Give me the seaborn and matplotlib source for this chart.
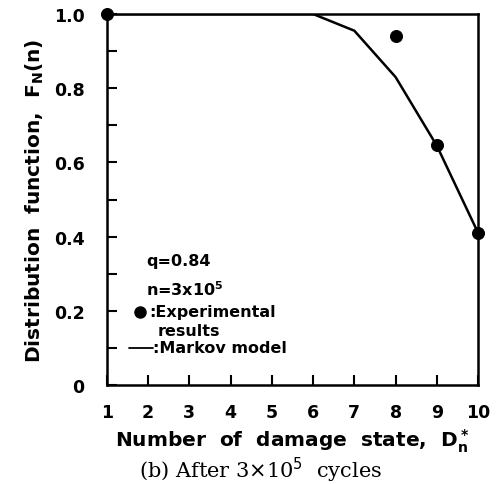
import matplotlib
matplotlib.use("Agg")
import matplotlib.pyplot as plt
import seaborn as sns
import pandas as pd
from matplotlib.ticker import MultipleLocator

sns.set_style("ticks")
plt.rcParams['font.family'] = ['DejaVu Sans']
plt.rcParams['text.color'] = 'black'
plt.rcParams['axes.labelcolor'] = 'black'
plt.rcParams['xtick.color'] = 'black'
plt.rcParams['ytick.color'] = 'black'

# Data
model_states = [1, 2, 3, 4, 5, 6, 7, 8, 9, 10]
model_values = [1.0, 1.0, 1.0, 1.0, 1.0, 1.0, 0.955, 0.83, 0.645, 0.41]
exp_states = [1, 8, 9, 10]
exp_values = [1.0, 0.94, 0.647, 0.41]
y_ticks = [0, 0.2, 0.4, 0.6, 0.8, 1.0]
y_ticklabels = ["0", "0.2", "0.4", "0.6", "0.8", "1.0"]
x_ticks = list(range(1, 11))

df_model = pd.DataFrame({"state": model_states, "F": model_values})
df_exp = pd.DataFrame({"state": exp_states, "F": exp_values})

fig = plt.figure(figsize=(4.97, 4.85), dpi=100)
ax = fig.add_axes([0.215, 0.204, 0.747, 0.765])

sns.lineplot(data=df_model, x="state", y="F", ax=ax, color="black", lw=1.8)
sns.scatterplot(data=df_exp, x="state", y="F", ax=ax, color="black", s=75,
                edgecolor="black", clip_on=False, zorder=5)

ax.set_xlim(1, 10)
ax.set_ylim(0, 1.0)
ax.set_xticks(x_ticks)
ax.set_yticks(y_ticks)
ax.set_yticklabels(y_ticklabels)
ax.yaxis.set_minor_locator(MultipleLocator(0.1))
ax.tick_params(axis="both", which="both", direction="in", labelsize=12.5,
               width=1.5, colors="black")
ax.tick_params(axis="x", which="major", length=7, pad=13)
ax.tick_params(axis="y", which="major", length=7, pad=16)
ax.tick_params(axis="y", which="minor", length=7)
for lbl in ax.get_xticklabels() + ax.get_yticklabels():
    lbl.set_fontweight("bold")
for sp in ax.spines.values():
    sp.set_visible(True)
    sp.set_linewidth(1.8)
    sp.set_color("black")

ax.set_xlabel("Number  of  damage  state,  D$^{\\bf *}_{\\bf n}$", fontsize=14.5,
              fontweight="bold", labelpad=4)
ax.set_ylabel("Distribution  function,  F$_{\\bf N}$(n)", fontsize=14.5,
              fontweight="bold", labelpad=6)

# in-axes legend text
tk = dict(transform=ax.transAxes, fontsize=11.5, fontweight="bold", va="center")
ax.text(0.105, 0.335, "q=0.84", **tk)
ax.text(0.105, 0.26, "n=3x10$^{\\bf 5}$", **tk)
ax.plot([0.09], [0.197], "o", color="black", ms=8, transform=ax.transAxes)
ax.text(0.115, 0.197, ":Experimental", **tk)
ax.text(0.138, 0.147, "results", **tk)
ax.plot([0.06, 0.125], [0.1, 0.1], color="black", lw=1.3, transform=ax.transAxes)
ax.text(0.125, 0.1, ":Markov model", **tk)

fig.text(0.525, 0.031, "(b) After 3$\\times$10$^5$  cycles", ha="center",
         va="center", fontsize=15, family="DejaVu Serif")

fig.savefig("out.png", dpi=100)
